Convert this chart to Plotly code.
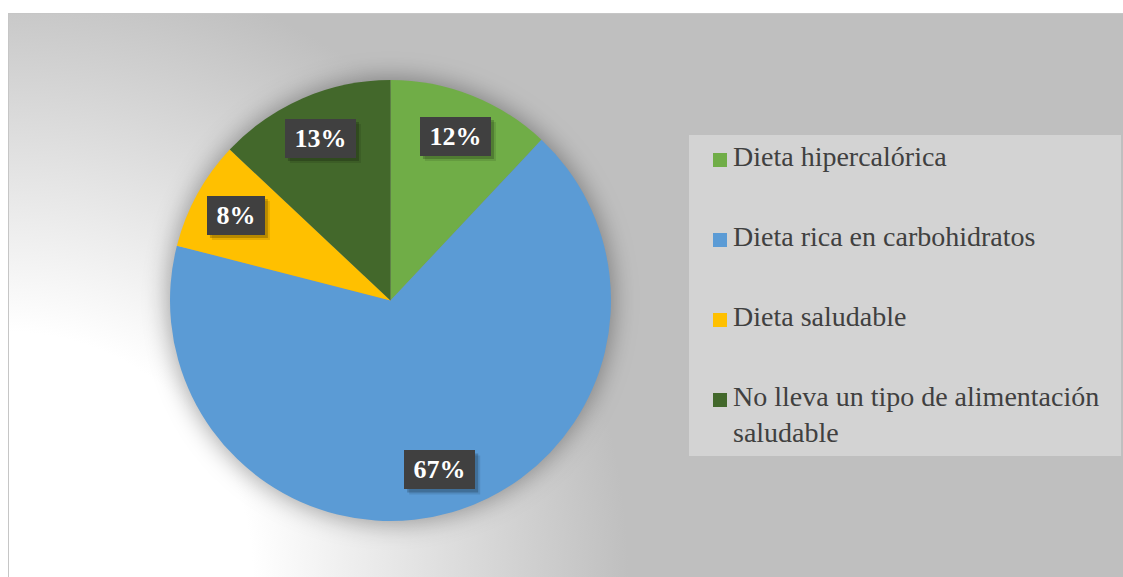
import base64
import math
import textwrap

import plotly.graph_objects as go

# Survey results: type of diet followed
labels = [
    "Dieta hipercalórica",
    "Dieta rica en carbohidratos",
    "Dieta saludable",
    "No lleva un tipo de alimentación saludable",
]
values = [12, 67, 8, 13]
colors = ["#70ad47", "#5b9bd5", "#ffc000", "#43682b"]

W, H = 1123, 577

# Pie geometry in pixels
PIE_CX, PIE_CY, PIE_R = 390.5, 300.5, 220.5
LABEL_FRAC = 0.80

# Background: white page, chart area with radial grey gradient and a soft pie shadow
svg = f"""<svg xmlns='http://www.w3.org/2000/svg' width='{W}' height='{H}' viewBox='0 0 {W} {H}'>
<defs>
<radialGradient id='bg' gradientUnits='userSpaceOnUse' cx='8' cy='577' r='620'>
<stop offset='0.395' stop-color='#ffffff'/>
<stop offset='1' stop-color='#bfbfbf'/>
</radialGradient>
<filter id='blur' x='-50%' y='-50%' width='200%' height='200%'>
<feGaussianBlur stdDeviation='12'/>
</filter>
</defs>
<rect width='{W}' height='{H}' fill='#ffffff'/>
<rect x='8.5' y='13.5' width='{W + 10}' height='{H + 10}' fill='url(#bg)' stroke='#c6c6c6' stroke-width='1'/>
<circle cx='{PIE_CX}' cy='{PIE_CY}' r='{PIE_R + 2}' fill='#000000' fill-opacity='0.34' filter='url(#blur)'/>
</svg>"""
bg_src = "data:image/svg+xml;base64," + base64.b64encode(svg.encode("utf-8")).decode("ascii")


def px(x):
    return x / W


def py(y):
    return 1 - y / H


fig = go.Figure()

fig.add_trace(
    go.Pie(
        labels=labels,
        values=values,
        marker=dict(colors=colors, line=dict(width=0)),
        sort=False,
        direction="clockwise",
        rotation=0,
        textinfo="none",
        showlegend=False,
        domain=dict(
            x=[px(PIE_CX - PIE_R), px(PIE_CX + PIE_R)],
            y=[py(PIE_CY + PIE_R), py(PIE_CY - PIE_R)],
        ),
    )
)

annotations = []
shapes = []

# Percentage labels placed at each slice's mid-angle, on dark boxes with a drop shadow
LABEL_SIZE = 26
BOX_H = 39
total = sum(values)
start = 0.0
for v in values:
    span = 360.0 * v / total
    mid = math.radians(start + span / 2)
    start += span
    lx = PIE_CX + LABEL_FRAC * PIE_R * math.sin(mid)
    ly = PIE_CY - LABEL_FRAC * PIE_R * math.cos(mid)
    pct = f"{round(100 * v / total)}"
    box_w = 19 + 0.5 * LABEL_SIZE * len(pct) + LABEL_SIZE
    for off, alpha in ((5, 0.10), (3, 0.20)):
        shapes.append(dict(
            type="rect", xref="paper", yref="paper",
            x0=px(lx - box_w / 2 + off), x1=px(lx + box_w / 2 + off),
            y0=py(ly + BOX_H / 2 + off), y1=py(ly - BOX_H / 2 + off),
            fillcolor=f"rgba(0,0,0,{alpha})", line=dict(width=0),
        ))
    annotations.append(dict(
        text=f"<b>{pct}%</b>",
        x=px(lx), y=py(ly), xref="paper", yref="paper",
        xanchor="center", yanchor="middle", showarrow=False,
        width=box_w, height=BOX_H, borderpad=0, borderwidth=0,
        bgcolor="#404040",
        font=dict(family="Liberation Serif", size=LABEL_SIZE, color="#ffffff"),
    ))

# Legend box drawn on the right
LEG_X0, LEG_Y0, LEG_X1, LEG_Y1 = 689, 135, 1121, 456
shapes.append(dict(
    type="rect", xref="paper", yref="paper",
    x0=px(LEG_X0), x1=px(LEG_X1), y0=py(LEG_Y1), y1=py(LEG_Y0),
    fillcolor="#d3d3d3", line=dict(width=0), layer="below",
))
ITEM_Y0, ITEM_STEP = 160, 80
for i, (lab, col) in enumerate(zip(labels, colors)):
    yc = ITEM_Y0 + i * ITEM_STEP
    shapes.append(dict(
        type="rect", xref="paper", yref="paper",
        x0=px(713), x1=px(727), y0=py(yc + 7), y1=py(yc - 7),
        fillcolor=col, line=dict(width=0),
    ))
    annotations.append(dict(
        text="<br>".join(textwrap.wrap(lab, 32)),
        x=px(731), y=py(yc - 21), xref="paper", yref="paper",
        xanchor="left", yanchor="top", align="left", showarrow=False,
        font=dict(family="Liberation Serif", size=28, color="#404040"),
    ))

fig.update_layout(
    width=W, height=H,
    margin=dict(l=0, r=0, t=0, b=0),
    paper_bgcolor="#ffffff",
    plot_bgcolor="rgba(0,0,0,0)",
    images=[dict(
        source=bg_src, xref="paper", yref="paper", x=0, y=1,
        sizex=1, sizey=1, xanchor="left", yanchor="top",
        sizing="stretch", layer="below",
    )],
    shapes=shapes,
    annotations=annotations,
)

fig.write_html("out.html")
